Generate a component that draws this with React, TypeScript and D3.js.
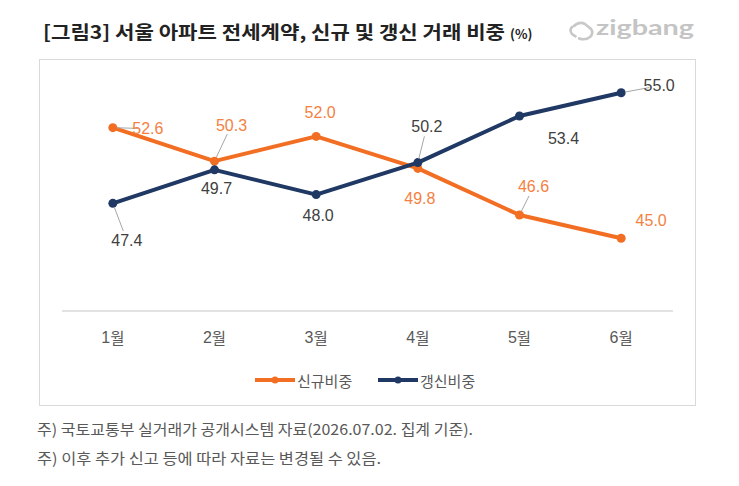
import * as d3 from "d3";

// chart data
const months = ["1월", "2월", "3월", "4월", "5월", "6월"];
const newShare = [52.6, 50.3, 52.0, 49.8, 46.6, 45.0];
const renewShare = [47.4, 49.7, 48.0, 50.2, 53.4, 55.0];
const seriesNames = ["신규비중", "갱신비중"];

const title = "[그림3] 서울 아파트 전세계약, 신규 및 갱신 거래 비중";
const notes = [
  "주) 국토교통부 실거래가 공개시스템 자료(2026.07.02. 집계 기준).",
  "주) 이후 추가 신고 등에 따라 자료는 변경될 수 있음.",
];
const noteWidths = [436, 344];

// label placement relative to each point: [dx, dy, leader?]
const newLabelPos: [number, number, boolean][] = [
  [35, 1, true],
  [17, -36, true],
  [4, -24, false],
  [2, 30, false],
  [14, -28, true],
  [30, -18, false],
];
const renewLabelPos: [number, number, boolean][] = [
  [14, 37, true],
  [2, 19, false],
  [2, 21, false],
  [9, -36, true],
  [44, 22, false],
  [38, -7, true],
];

const W = 739;
const H = 486;
const ORANGE = "#f26e22";
const ORANGE_TXT = "#f4813f";
const NAVY = "#203864";
const KR = "'Noto Sans CJK KR', 'Noto Sans', sans-serif";
const NUM = "'Liberation Sans', Arial, sans-serif";

const x = d3.scaleBand<string>().domain(months).range([62, 672]).padding(0);
const cx = (m: string) => (x(m) ?? 0) + x.bandwidth() / 2;
const y = d3.scaleLinear().domain([40, 60]).range([311, 20]);

const line = d3
  .line<number>()
  .x((_, i) => cx(months[i]))
  .y((v) => y(v));

function leader(px: number, py: number, tx: number, ty: number) {
  // short grey leader from the point towards the label
  const ang = Math.atan2(ty - py, tx - px);
  const len = Math.hypot(tx - px, ty - py);
  const a = 4;
  const b = Math.max(a + 2, len - 10);
  return `M${px + Math.cos(ang) * a},${py + Math.sin(ang) * a}L${px + Math.cos(ang) * b},${py + Math.sin(ang) * b}`;
}

function Series({
  values,
  color,
  textColor,
  pos,
}: {
  values: number[];
  color: string;
  textColor: string;
  pos: [number, number, boolean][];
}) {
  return (
    <g>
      <path d={line(values) ?? ""} fill="none" stroke={color} strokeWidth={4} strokeLinejoin="round" />
      {values.map((v, i) => (
        <circle key={i} cx={cx(months[i])} cy={y(v)} r={4.5} fill={color} />
      ))}
      {values.map((v, i) => {
        const px = cx(months[i]);
        const py = y(v);
        const [dx, dy, lead] = pos[i];
        return (
          <g key={"l" + i}>
            {lead && <path d={leader(px, py, px + dx, py + dy)} stroke="#a6a6a6" strokeWidth={1} fill="none" />}
            <text
              x={px + dx}
              y={py + dy}
              textAnchor="middle"
              dominantBaseline="central"
              fontFamily={NUM}
              fontSize={16}
              fill={textColor}
            >
              {v.toFixed(1)}
            </text>
          </g>
        );
      })}
    </g>
  );
}

export default function App() {
  const legendItems = [
    { name: seriesNames[0], color: ORANGE, x0: 255 },
    { name: seriesNames[1], color: NAVY, x0: 378 },
  ];
  return (
    <svg
      width={W}
      height={H}
      style={{ position: "absolute", left: 0, top: 0, background: "#fff" }}
    >
      <rect x={0} y={0} width={W} height={H} fill="#fff" />
      {/* title */}
      <text x={43} y={31} dominantBaseline="central" fontFamily={KR} fontWeight={700} fontSize={18.5} fill="#222" textLength={462} lengthAdjust="spacingAndGlyphs">
        {title}
      </text>
      <text x={510} y={33} dominantBaseline="central" fontFamily={KR} fontWeight={700} fontSize={13} fill="#222">
        (%)
      </text>
      {/* logo */}
      <g fill="none" stroke="#c8c8c8" strokeWidth={2.6} strokeLinecap="round">
        <path d="M574,26 Q579,21 585,24 L591,29 Q594,33 590,37 Q585,41 578,38 L572,34 Q569,30 572,27" strokeDasharray="40 4" />
      </g>
      <text x={596} y={35} fontFamily="Lato, 'Open Sans', sans-serif" fontWeight={700} fontSize={21} fill="#c4c4c4" textLength={98} lengthAdjust="spacingAndGlyphs">
        zigbang
      </text>
      {/* chart frame */}
      <rect x={39.5} y={59.5} width={656} height={346} fill="#fff" stroke="#d9d9d9" strokeWidth={1} />
      <line x1={62} x2={673} y1={y(40)} y2={y(40)} stroke="#d9d9d9" strokeWidth={1.3} />
      {months.map((m) => (
        <text key={m} x={cx(m)} y={337} textAnchor="middle" dominantBaseline="central" fontFamily={`${NUM}, ${KR}`} fontSize={16} fill="#595959">
          <tspan fontFamily={NUM}>{m.slice(0, -1)}</tspan>
          <tspan fontFamily={KR} fontSize={15.5}>{m.slice(-1)}</tspan>
        </text>
      ))}
      <Series values={newShare} color={ORANGE} textColor={ORANGE_TXT} pos={newLabelPos} />
      <Series values={renewShare} color={NAVY} textColor="#404040" pos={renewLabelPos} />
      {/* legend */}
      {legendItems.map((it) => (
        <g key={it.name}>
          <line x1={it.x0} x2={it.x0 + 40} y1={380} y2={380} stroke={it.color} strokeWidth={4} />
          <circle cx={it.x0 + 20} cy={380} r={3.5} fill={it.color} />
          <text x={it.x0 + 42} y={380} dominantBaseline="central" fontFamily={KR} fontSize={15} fill="#595959">
            {it.name}
          </text>
        </g>
      ))}
      {/* notes */}
      {notes.map((n, i) => (
        <text key={i} x={37} y={428 + i * 29} dominantBaseline="central" fontFamily={KR} fontSize={15} fill="#595959" textLength={noteWidths[i]} lengthAdjust="spacingAndGlyphs">
          {n}
        </text>
      ))}
    </svg>
  );
}
